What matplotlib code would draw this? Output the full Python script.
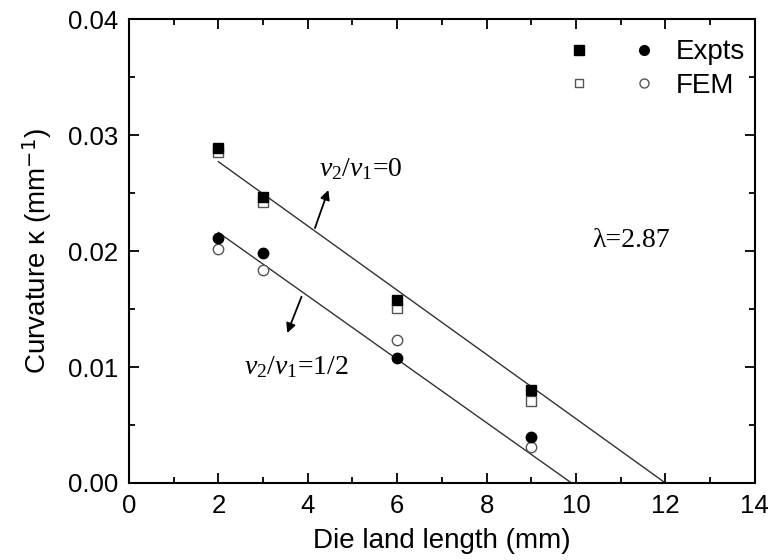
"""
Curvature vs die land length: experiments and FEM for two velocity ratios,
with straight-line fits.
"""

import matplotlib
matplotlib.use("Agg")
import matplotlib.pyplot as plt
from matplotlib.legend_handler import HandlerTuple
from matplotlib.lines import Line2D
from matplotlib.ticker import MultipleLocator, FormatStrFormatter


# die land length (mm)
die_length = [2, 3, 6, 9]

# curvature (1/mm), v2/v1 = 0
expt_v0 = [0.0289, 0.0247, 0.0158, 0.0080]
fem_v0 = [0.0285, 0.0242, 0.0151, 0.0071]

# curvature (1/mm), v2/v1 = 1/2
expt_v12 = [0.0211, 0.0198, 0.0108, 0.0040]
fem_v12 = [0.0202, 0.0184, 0.0123, 0.0031]

# fitted lines (end points)
fit_x_v0 = [2.0, 12.0]
fit_y_v0 = [0.0277, 0.0]
fit_x_v12 = [2.0, 9.9]
fit_y_v12 = [0.0216, 0.0]

LAMBDA_TEXT = "\u03bb=2.87"

plt.rcParams["font.family"] = ["Liberation Sans", "DejaVu Sans"]
plt.rcParams["mathtext.fontset"] = "custom"
plt.rcParams["mathtext.rm"] = "Liberation Serif"
plt.rcParams["mathtext.it"] = "Liberation Serif:italic"


def main():
    fig = plt.figure(figsize=(7.71, 5.60), dpi=100)
    ax = fig.add_axes([0.1673, 0.1375, 0.8117, 0.8285])

    ax.plot(fit_x_v0, fit_y_v0, color="#333333", lw=1.0)
    ax.plot(fit_x_v12, fit_y_v12, color="#333333", lw=1.0)

    ms = 7
    ax.plot(die_length, fem_v0, ls="none", marker="s", ms=ms,
            mfc="white", mec="#555555", mew=1.0)
    ax.plot(die_length, expt_v0, ls="none", marker="s", ms=ms,
            mfc="black", mec="black")
    ax.plot(die_length, fem_v12, ls="none", marker="o", ms=ms + 0.5,
            mfc="white", mec="#555555", mew=1.0)
    ax.plot(die_length, expt_v12, ls="none", marker="o", ms=ms + 0.5,
            mfc="black", mec="black")

    # legend: two markers per entry
    leg_exp = (Line2D([], [], ls="none", marker="s", ms=6.5, mfc="black", mec="black"),
               Line2D([], [], ls="none", marker="o", ms=7, mfc="black", mec="black"))
    leg_fem = (Line2D([], [], ls="none", marker="s", ms=6, mfc="white", mec="#555555"),
               Line2D([], [], ls="none", marker="o", ms=6.5, mfc="white", mec="#555555"))
    ax.legend([leg_exp, leg_fem], ["Expts", "FEM"],
              handler_map={tuple: HandlerTuple(ndivide=None, pad=1.26)},
              loc="upper right", bbox_to_anchor=(0.993, 0.968), frameon=False,
              fontsize=20, numpoints=1, handlelength=3.42, handletextpad=0.61,
              labelspacing=0.28, borderaxespad=0.0, borderpad=0.2)

    # annotations
    ax.annotate("", xy=(4.46, 0.02526), xytext=(4.16, 0.02198),
                arrowprops=dict(arrowstyle="-|>", color="black", lw=1.3,
                                mutation_scale=14, shrinkA=0, shrinkB=0))
    ax.text(4.25, 0.02705, r"$v_2/v_1$=0", fontsize=20,
            family="Liberation Serif", va="center", ha="left")

    ax.annotate("", xy=(3.54, 0.01293), xytext=(3.86, 0.01606),
                arrowprops=dict(arrowstyle="-|>", color="black", lw=1.3,
                                mutation_scale=14, shrinkA=0, shrinkB=0))
    ax.text(2.57, 0.00995, r"$v_2/v_1$=1/2", fontsize=20,
            family="Liberation Serif", va="center", ha="left")

    ax.text(10.36, 0.02089, LAMBDA_TEXT, fontsize=20,
            family="Liberation Serif", va="center", ha="left")

    ax.set_xlim(0, 14)
    ax.set_ylim(0, 0.04)
    ax.xaxis.set_major_locator(MultipleLocator(2))
    ax.xaxis.set_minor_locator(MultipleLocator(1))
    ax.yaxis.set_major_locator(MultipleLocator(0.01))
    ax.yaxis.set_minor_locator(MultipleLocator(0.005))
    ax.yaxis.set_major_formatter(FormatStrFormatter("%.2f"))

    ax.tick_params(which="both", direction="in", top=True, right=True,
                   width=1.3, labelsize=18.5, pad=8)
    ax.tick_params(which="major", length=7)
    ax.tick_params(which="minor", length=4)
    for sp in ax.spines.values():
        sp.set_linewidth(1.5)

    ax.set_xlabel("Die land length (mm)", fontsize=20, labelpad=7)
    ax.set_ylabel("Curvature \u03ba (mm$^{\\mathsf{-1}}$)", fontsize=20, labelpad=10)

    fig.savefig("out.png", dpi=100)
    plt.close(fig)


if __name__ == "__main__":
    main()
